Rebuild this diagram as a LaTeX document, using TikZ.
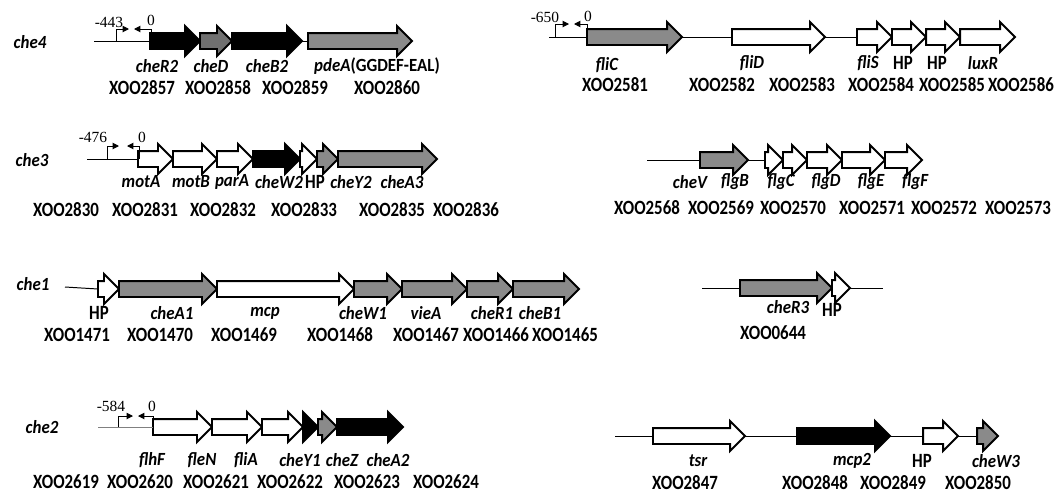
\documentclass[tikz,border=0pt]{standalone}
\usepackage{fontspec}
\setmainfont{Carlito}
\newfontfamily\numfont{Liberation Serif}
\usetikzlibrary{shapes.arrows,arrows.meta}

\definecolor{genegray}{RGB}{138,138,138}
\definecolor{deepgray}{RGB}{112,112,112}

\begin{document}
\begin{tikzpicture}[x=0.025cm, y=-0.025cm,
        gene/.style={single arrow, draw=black, line width=1.4pt, minimum height=#1*0.025cm,
            single arrow head extend=0.175cm, single arrow tip angle=90, inner xsep=0pt,
            inner ysep=0.175cm, outer sep=0pt, anchor=tail},
        blk/.style={gene=#1, fill=black},
        gry/.style={gene=#1, fill=genegray},
        wht/.style={gene=#1, fill=white},
        dna/.style={line width=0.7pt},
        prom/.style={line width=0.7pt, -{Triangle[length=4.5pt,width=4.5pt]}},
        num/.style={font=\numfont\fontsize{11}{11}\selectfont, inner sep=0pt},
        cluster/.style={font=\fontsize{12}{12}\selectfont\bfseries\itshape, inner sep=0pt, yscale=1.1, transform shape},
        glabel/.style={font=\fontsize{12}{12}\selectfont\bfseries\itshape, inner sep=0pt, yscale=1.1, transform shape},
        gid/.style={font=\fontsize{12}{12}\selectfont\bfseries, inner sep=0pt, yscale=1.2, transform shape}
    ]
        \useasboundingbox (0,0) rectangle (1063,495);

        % che4
        \node[cluster] (che4) at (30,42) {che4};
        \coordinate (s4) at (94,41);
        \node[blk=50] (cheR2) at (150,41) {};
        \node[gene=32, fill=deepgray] (cheD) at (200,41) {};
        \node[blk=70] (cheB2) at (232,41) {};
        \node[gry=104] (pdeA) at (308,41) {};
        \draw[dna] (s4) -- (cheR2.tail);
        \draw[dna] (cheB2.tip) -- (pdeA.tail);
        \draw[prom] (116,41) |- (129,29);
        \draw[prom] (151,41) |- (134,29);
        \node[num] (p443) at (109,22) {-443};
        \node[num] (p0a) at (151,20) {0};
        \node[glabel] (lcheR2) at (157,66) {cheR2};
        \node[glabel] (lcheD) at (211,66) {cheD};
        \node[glabel] (lcheB2) at (267,66) {cheB2};
        \node[glabel] (lpdeA) at (377,66) {pdeA\upshape(GGDEF-EAL)};
        \node[gid] (x2857) at (142,88) {XOO2857};
        \node[gid] (x2858) at (218,88) {XOO2858};
        \node[gid] (x2859) at (295,88) {XOO2859};
        \node[gid] (x2860) at (387,88) {XOO2860};

        % fli cluster
        \coordinate (sf) at (549,37);
        \node[gry=95] (fliC) at (587,37) {};
        \node[wht=93] (fliD) at (732,37) {};
        \node[wht=35] (fliS) at (857,37) {};
        \node[wht=34] (hpf1) at (892,37) {};
        \node[wht=34] (hpf2) at (926,37) {};
        \node[wht=55] (luxR) at (960,37) {};
        \draw[dna] (sf) -- (fliC.tail);
        \draw[dna] (fliC.tip) -- (fliD.tail);
        \draw[dna] (fliD.tip) -- (fliS.tail);
        \draw[prom] (555,37) |- (569,24);
        \draw[prom] (587,37) |- (574,24);
        \node[num] (p650) at (545,17) {-650};
        \node[num] (p0b) at (588,16) {0};
        \node[glabel] (lfliC) at (607,65) {fliC};
        \node[glabel] (lfliD) at (752,63) {fliD};
        \node[glabel] (lfliS) at (868,63) {fliS};
        \node[gid] (lhpf1) at (903,63) {HP};
        \node[gid] (lhpf2) at (937,63) {HP};
        \node[glabel] (lluxR) at (983,63) {luxR};
        \node[gid] (x2581) at (615,85) {XOO2581};
        \node[gid] (x2582) at (722,85) {XOO2582};
        \node[gid] (x2583) at (802,85) {XOO2583};
        \node[gid] (x2584) at (881,85) {XOO2584};
        \node[gid] (x2585) at (952,85) {XOO2585};
        \node[gid] (x2586) at (1021,85) {XOO2586};

        % che3
        \node[cluster] (che3) at (32,160) {che3};
        \coordinate (s3) at (87,159);
        \node[wht=35] (motA) at (138,159) {};
        \node[wht=44] (motB) at (173,159) {};
        \node[wht=36] (parA) at (217,159) {};
        \node[blk=47] (cheW2) at (253,159) {};
        \node[wht=17] (hp3) at (300,159) {};
        \node[gry=21] (cheY2) at (317,159) {};
        \node[gry=99] (cheA3) at (338,159) {};
        \draw[dna] (s3) -- (motA.tail);
        \draw[prom] (107,159) |- (119,146);
        \draw[prom] (139,159) |- (127,146);
        \node[num] (p476) at (93,137) {-476};
        \node[num] (p0c) at (142,137) {0};
        \node[glabel] (lmotA) at (141,182) {motA};
        \node[glabel] (lmotB) at (191,182) {motB};
        \node[glabel] (lparA) at (232,182) {parA};
        \node[glabel] (lcheW2) at (279,182) {cheW2};
        \node[gid] (lhp3) at (315,182) {HP};
        \node[glabel] (lcheY2) at (351,182) {cheY2};
        \node[glabel] (lcheA3) at (402,182) {cheA3};
        \node[gid] (x2830) at (66,210) {XOO2830};
        \node[gid] (x2831) at (145,210) {XOO2831};
        \node[gid] (x2832) at (223,210) {XOO2832};
        \node[gid] (x2833) at (304,210) {XOO2833};
        \node[gid] (x2835) at (392,210) {XOO2835};
        \node[gid] (x2836) at (466,210) {XOO2836};

        % flg cluster
        \coordinate (sg) at (647,160);
        \node[gry=48] (cheV) at (700,160) {};
        \node[wht=18] (flgB) at (765,160) {};
        \node[wht=24] (flgC) at (783,160) {};
        \node[wht=35] (flgD) at (807,160) {};
        \node[wht=43] (flgE) at (842,160) {};
        \node[wht=37] (flgF) at (885,160) {};
        \draw[dna] (sg) -- (cheV.tail);
        \draw[dna] (cheV.tip) -- (flgB.tail);
        \node[glabel] (lcheV) at (690,182) {cheV};
        \node[glabel] (lflgB) at (735,182) {flgB};
        \node[glabel] (lflgC) at (781,182) {flgC};
        \node[glabel] (lflgD) at (826,182) {flgD};
        \node[glabel] (lflgE) at (871,182) {flgE};
        \node[glabel] (lflgF) at (915,182) {flgF};
        \node[gid] (x2568) at (647,208) {XOO2568};
        \node[gid] (x2569) at (721,208) {XOO2569};
        \node[gid] (x2570) at (793,208) {XOO2570};
        \node[gid] (x2571) at (872,208) {XOO2571};
        \node[gid] (x2572) at (944,208) {XOO2572};
        \node[gid] (x2573) at (1018,208) {XOO2573};

        % che1
        \node[cluster] (che1) at (33,284) {che1};
        \coordinate (s1) at (65,287);
        \node[wht=21] (hp1) at (98,289) {};
        \node[gry=98] (cheA1) at (119,289) {};
        \node[wht=137] (mcp) at (217,289) {};
        \node[gry=48] (cheW1) at (354,289) {};
        \node[gry=65] (vieA) at (402,289) {};
        \node[gry=46] (cheR1) at (467,289) {};
        \node[gry=66] (cheB1) at (513,289) {};
        \draw[dna] (s1) -- (hp1.tail);
        \node[gid] (lhp1) at (99,313) {HP};
        \node[glabel] (lcheA1) at (172,313) {cheA1};
        \node[glabel] (lmcp) at (265,313) {mcp};
        \node[glabel] (lcheW1) at (363,313) {cheW1};
        \node[glabel] (lvieA) at (426,313) {vieA};
        \node[glabel] (lcheR1) at (492,313) {cheR1};
        \node[glabel] (lcheB1) at (540,313) {cheB1};
        \node[gid] (x1471) at (77,335) {XOO1471};
        \node[gid] (x1470) at (160,335) {XOO1470};
        \node[gid] (x1469) at (244,335) {XOO1469};
        \node[gid] (x1468) at (340,335) {XOO1468};
        \node[gid] (x1467) at (426,335) {XOO1467};
        \node[gid] (x1466) at (496,335) {XOO1466};
        \node[gid] (x1465) at (565,335) {XOO1465};

        % cheR3
        \coordinate (sr) at (702,288);
        \coordinate (er) at (883,288);
        \node[gry=92] (cheR3) at (740,288) {};
        \node[wht=18] (hpr) at (832,288) {};
        \draw[dna] (sr) -- (cheR3.tail);
        \draw[dna] (hpr.tip) -- (er);
        \node[glabel] (lcheR3) at (788,307) {cheR3};
        \node[gid] (lhpr) at (832,310) {HP};
        \node[gid] (x0644) at (773,333) {XOO0644};

        % che2
        \node[cluster] (che2) at (42,427) {che2};
        \coordinate (s2) at (98,427);
        \node[wht=59] (flhF) at (153,427) {};
        \node[wht=50] (fleN) at (212,427) {};
        \node[wht=41] (fliA) at (262,427) {};
        \node[blk=15] (cheY1) at (303,427) {};
        \node[gry=19] (cheZ) at (318,427) {};
        \node[blk=66] (cheA2) at (337,427) {};
        \draw[dna, draw=gray] (s2) -- (flhF.tail);
        \draw[prom] (118,427) |- (133,416);
        \draw[prom] (153,427) |- (138,416);
        \node[num] (p584) at (111,406) {-584};
        \node[num] (p0d) at (152,406) {0};
        \node[glabel] (lflhF) at (152,460) {flhF};
        \node[glabel] (lfleN) at (202,460) {fleN};
        \node[glabel] (lfliA) at (246,460) {fliA};
        \node[glabel] (lcheY1) at (300,460) {cheY1};
        \node[glabel] (lcheZ) at (342,460) {cheZ};
        \node[glabel] (lcheA2) at (388,460) {cheA2};
        \node[gid] (x2619) at (66,482) {XOO2619};
        \node[gid] (x2620) at (140,482) {XOO2620};
        \node[gid] (x2621) at (216,482) {XOO2621};
        \node[gid] (x2622) at (290,482) {XOO2622};
        \node[gid] (x2623) at (367,482) {XOO2623};
        \node[gid] (x2624) at (446,482) {XOO2624};

        % tsr cluster
        \coordinate (st) at (615,436);
        \node[wht=92] (tsr) at (653,436) {};
        \node[blk=93] (mcp2) at (797,436) {};
        \node[wht=35] (hpt) at (923,436) {};
        \node[gry=21] (cheW3) at (977,436) {};
        \draw[dna] (st) -- (tsr.tail);
        \draw[dna] (tsr.tip) -- (mcp2.tail);
        \draw[dna] (mcp2.tip) -- (hpt.tail);
        \draw[dna] (hpt.tip) -- (cheW3.tail);
        \node[glabel] (ltsr) at (698,461) {tsr};
        \node[glabel] (lmcp2) at (852,461) {mcp2};
        \node[gid] (lhpt) at (922,461) {HP};
        \node[glabel] (lcheW3) at (996,461) {cheW3};
        \node[gid] (x2847) at (685,483) {XOO2847};
        \node[gid] (x2848) at (815,483) {XOO2848};
        \node[gid] (x2849) at (893,483) {XOO2849};
        \node[gid] (x2850) at (978,483) {XOO2850};
    \end{tikzpicture}
\end{document}
